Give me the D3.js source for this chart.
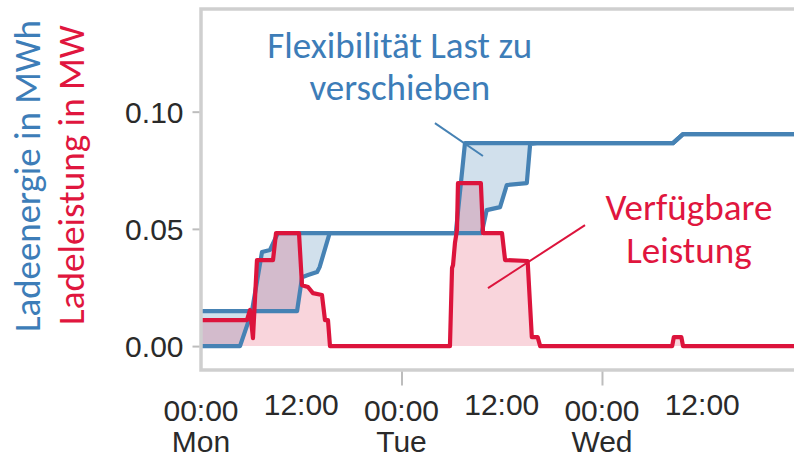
<!DOCTYPE html>
<html><head><meta charset="utf-8">
<script src="https://cdn.jsdelivr.net/npm/d3@7"></script>
<style>body{margin:0;background:#fff;} svg{display:block;}</style>
</head><body>
<svg id="c" width="794" height="458"></svg>
<script>
// ---- data (hours since Monday 00:00) ----
const hoursEnergyEarly = [0, 6.1, 7.3, 8.26, 9.2, 30.5, 31.6, 56.5, 57.7, 72];
const energyEarly      = [0.0149, 0.0149, 0.0401, 0.041, 0.0482, 0.0482, 0.0866, 0.0866, 0.0904, 0.0904];
const hoursEnergyLate  = [0, 4.67, 6.1, 11.5, 12.1, 12.8, 13.9, 14.2, 15.4, 33.6, 34.2, 35.8, 36.6, 39.0, 39.4, 40.2, 56.5, 57.7, 72];
const energyLate       = [0, 0, 0.0149, 0.0149, 0.0294, 0.0303, 0.0316, 0.0337, 0.0482, 0.0482, 0.058, 0.0593, 0.0687, 0.0695, 0.0862, 0.0866, 0.0866, 0.0904, 0.0904];
const hoursPower = [0, 5.5, 5.87, 6.22, 6.7, 8.62, 8.98, 11.73, 12.09, 12.81, 13.4, 14.48, 14.84, 15.2, 15.44,
                    29.8, 30.05, 30.17, 30.4, 30.64, 30.76, 33.5, 33.76, 36.03, 36.4, 39.1, 39.6, 40.3, 40.6,
                    56.4, 56.6, 57.5, 57.7, 72];
const power      = [0.0111, 0.0111, 0.0154, 0.0034, 0.0367, 0.0367, 0.0482, 0.0482, 0.026, 0.0252, 0.0226, 0.0218, 0.0111, 0.0111, 0,
                    0, 0.0333, 0.0346, 0.044, 0.0495, 0.0695, 0.0695, 0.0482, 0.0482, 0.0367, 0.0363, 0.0038, 0.0038, 0,
                    0, 0.0038, 0.0038, 0, 0];
const yTicks = [0, 0.05, 0.10];
const xTicks = [0, 12, 24, 36, 48, 60];
const xTimeLabels = ["00:00", "12:00", "00:00", "12:00", "00:00", "12:00"];
const xDayLabels  = ["Mon", "", "Tue", "", "Wed", ""];
const yTitleEnergy = "Ladeenergie in MWh";
const yTitlePower  = "Ladeleistung in MW";
const noteFlex  = ["Flexibilität Last zu", "verschieben"];
const notePower = ["Verfügbare", "Leistung"];

(function () {
// ---- layout ----
const BLUE = "#4682b4", BLUE_TXT = "#3d7db8", RED = "#dc143c", RED_TXT = "#e0163e";
const svg = d3.select("#c");
const x = d3.scaleLinear().domain([0, 72]).range([201, 201 + 72 * 8.354]);
const y = d3.scaleLinear().domain([-0.0102, 0.1438]).range([370, 9]);
const W = 794, yTop = y.range()[1], yBot = y.range()[0], xLeft = x(0);

svg.append("defs").append("clipPath").attr("id", "clip")
  .append("rect").attr("x", xLeft).attr("y", yTop).attr("width", W + 10 - xLeft).attr("height", yBot - yTop);

const zip = (hs, vs) => hs.map((h, i) => [h, vs[i]]);
const early = zip(hoursEnergyEarly, energyEarly);
const late = zip(hoursEnergyLate, energyLate);
const pw = zip(hoursPower, power);

const allHours = Array.from(new Set([...hoursEnergyEarly, ...hoursEnergyLate])).sort((a, b) => a - b);
const interp = (pts, h) => {
  for (let i = 1; i < pts.length; i++) {
    if (h <= pts[i][0]) {
      const [h0, v0] = pts[i - 1], [h1, v1] = pts[i];
      return h1 === h0 ? v1 : v0 + (v1 - v0) * (h - h0) / (h1 - h0);
    }
  }
  return pts[pts.length - 1][1];
};
const band = allHours.map(h => ({ h, hi: interp(early, h), lo: interp(late, h) }));

const g = svg.append("g").attr("clip-path", "url(#clip)");
g.append("path").datum(band)
  .attr("d", d3.area().x(d => x(d.h)).y0(d => y(d.lo)).y1(d => y(d.hi)))
  .attr("fill", BLUE).attr("fill-opacity", 0.25);
g.append("path").datum(pw)
  .attr("d", d3.area().x(d => x(d[0])).y0(y(0)).y1(d => y(d[1])))
  .attr("fill", RED).attr("fill-opacity", 0.18);
const line = d3.line().x(d => x(d[0])).y(d => y(d[1]));
g.append("path").datum(late).attr("d", line).attr("fill", "none")
  .attr("stroke", BLUE).attr("stroke-width", 4.2).attr("stroke-linejoin", "round");
g.append("path").datum(early).attr("d", line).attr("fill", "none")
  .attr("stroke", BLUE).attr("stroke-width", 4.2).attr("stroke-linejoin", "round");
g.append("path").datum(pw).attr("d", line).attr("fill", "none")
  .attr("stroke", RED).attr("stroke-width", 4.2).attr("stroke-linejoin", "round");

// frame
svg.append("rect").attr("x", xLeft).attr("y", yTop).attr("width", W + 20 - xLeft).attr("height", yBot - yTop)
  .attr("fill", "none").attr("stroke", "#cfcfcf").attr("stroke-width", 3.5);

// y axis
const ya = svg.append("g").attr("transform", `translate(${xLeft - 1.5},0)`)
  .call(d3.axisLeft(y).tickValues(yTicks).tickSize(7).tickPadding(9).tickFormat(d3.format(".2f")));
ya.select(".domain").remove();
ya.selectAll("line").attr("stroke", "#bdbdbd").attr("stroke-width", 2);
ya.selectAll("text").attr("font-family", "Liberation Sans, Arial, sans-serif").attr("font-size", 30)
  .attr("fill", "#2a2a2a").attr("dy", "0.36em");

// x axis
const xa = svg.append("g").attr("transform", `translate(0,${yBot + 1.5})`)
  .call(d3.axisBottom(x).tickValues(xTicks).tickSize(14).tickFormat(""));
xa.select(".domain").remove();
xa.selectAll(".tick line").attr("stroke", "#bdbdbd").attr("stroke-width", 2)
  .attr("display", (d, i) => (i === 0 || xTimeLabels[i] === "12:00") ? "none" : null);
xa.selectAll(".tick text").remove();
xTicks.forEach((t, i) => {
  const tx = svg.append("text").attr("x", x(t)).attr("text-anchor", "middle")
    .attr("font-family", "Liberation Sans, Arial, sans-serif").attr("font-size", 30).attr("fill", "#2a2a2a");
  if (xDayLabels[i]) {
    tx.append("tspan").attr("x", x(t)).attr("y", 421).text(xTimeLabels[i]);
    tx.append("tspan").attr("x", x(t)).attr("y", 452).text(xDayLabels[i]);
  } else {
    tx.attr("y", 415).text(xTimeLabels[i]);
  }
});

function fit(sel, target) {
  const w = sel.node().getComputedTextLength();
  const fs = +sel.attr("font-size");
  sel.attr("font-size", fs * target / w);
  return fs * target / w;
}
const FONT = "Carlito, Calibri, Lato, sans-serif";

const t1 = svg.append("text").attr("transform", "translate(40,176) rotate(-90)").attr("text-anchor", "middle")
  .attr("font-family", FONT).attr("font-size", 36).attr("fill", BLUE_TXT).text(yTitleEnergy);
fit(t1, 312);
const t2 = svg.append("text").attr("transform", "translate(84,175) rotate(-90)").attr("text-anchor", "middle")
  .attr("font-family", FONT).attr("font-size", 36).attr("fill", RED_TXT).text(yTitlePower);
fit(t2, 300);

const flexPos = { h: 23.8, v1: 0.1229, v2: 0.105 };
const powPos = { h: 58.4, v1: 0.0538, v2: 0.0354 };
const a1 = svg.append("text").attr("x", x(flexPos.h)).attr("y", y(flexPos.v1)).attr("text-anchor", "middle")
  .attr("font-family", FONT).attr("font-size", 36).attr("fill", BLUE_TXT).text(noteFlex[0]);
const fs1 = fit(a1, 265);
svg.append("text").attr("x", x(flexPos.h)).attr("y", y(flexPos.v2)).attr("text-anchor", "middle")
  .attr("font-family", FONT).attr("font-size", fs1).attr("fill", BLUE_TXT).text(noteFlex[1]);
const a2 = svg.append("text").attr("x", x(powPos.h)).attr("y", y(powPos.v1)).attr("text-anchor", "middle")
  .attr("font-family", FONT).attr("font-size", 36).attr("fill", RED_TXT).text(notePower[0]);
const fs2 = fit(a2, 167);
svg.append("text").attr("x", x(powPos.h)).attr("y", y(powPos.v2)).attr("text-anchor", "middle")
  .attr("font-family", FONT).attr("font-size", fs2).attr("fill", RED_TXT).text(notePower[1]);

const flexLeader = [[28.0, 0.0951], [33.75, 0.0811]];
const powLeader = [[34.35, 0.0247], [45.97, 0.0516]];
svg.append("path").datum(flexLeader).attr("d", line).attr("stroke", BLUE).attr("stroke-width", 2).attr("fill", "none");
svg.append("path").datum(powLeader).attr("d", line).attr("stroke", RED).attr("stroke-width", 2).attr("fill", "none");
})();
</script>
</body></html>
